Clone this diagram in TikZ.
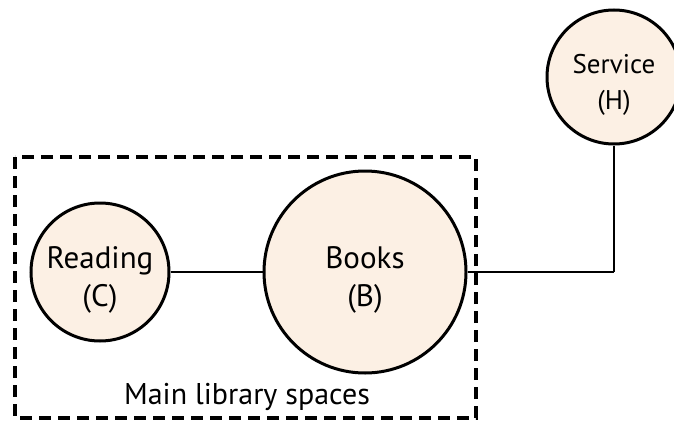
\documentclass[tikz,border=0pt]{standalone}
\usepackage{fontspec}
\setmainfont{PT Sans}
\usetikzlibrary{positioning, shapes, arrows}
\definecolor{roomfill}{RGB}{252,240,228}

\begin{document}
\begin{tikzpicture}[x=1pt, y=-1pt, auto,
          room/.style={circle, draw, line width=3pt, fill=roomfill, inner sep=0pt,
                       align=center, font=\fontsize{31}{38}\selectfont, text height=75pt},
          groupbox/.style={draw, line width=3.2pt, dash pattern=on 12pt off 7pt}]
        \useasboundingbox (0,0) rectangle (674,423);
        \draw[groupbox] (15,157) rectangle (476,418);
        \node[room, minimum size=138pt] (c) at (100,272) {Reading\\(C)};
        \node[room, minimum size=202pt] (b) at (365,272) {Books\\(B)};
        \node[room, minimum size=134pt, font=\fontsize{27}{36}\selectfont, text height=70pt] (h) at (614,77) {Service\\(H)};
        \node[font=\fontsize{30}{35}\selectfont] (spaces) at (247,397) {Main library spaces};
        \path[line width=2.4pt]
        (c) edge (b)
        (b) edge [-] (b.east -| h.south)
        (b.east -| h.south) edge (h);
      \end{tikzpicture}
\end{document}
